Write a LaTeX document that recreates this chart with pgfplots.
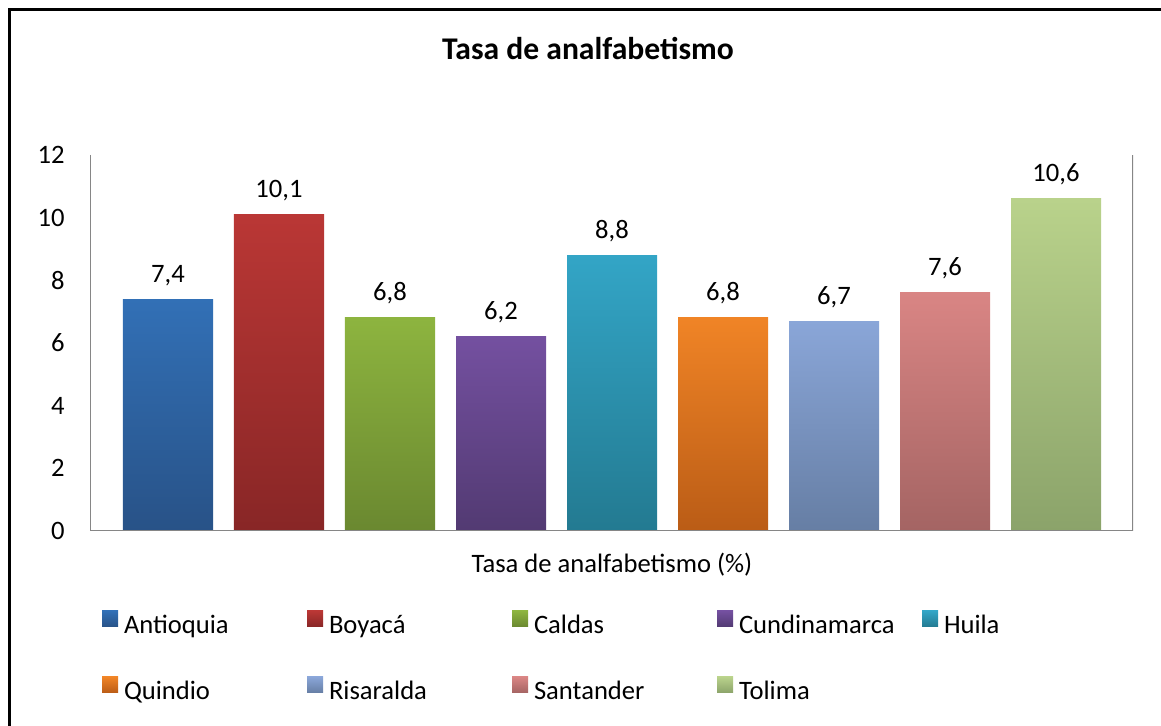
\documentclass[border=0pt]{standalone}
\usepackage{pgfplots}
\pgfplotsset{compat=1.18}
\usepackage{fontspec}
\setmainfont{Carlito}
\definecolor{c1t}{HTML}{3270B6}\definecolor{c1b}{HTML}{285287}
\definecolor{c2t}{HTML}{BA3735}\definecolor{c2b}{HTML}{882626}
\definecolor{c3t}{HTML}{8DB43F}\definecolor{c3b}{HTML}{6A8830}
\definecolor{c4t}{HTML}{7450A0}\definecolor{c4b}{HTML}{523A72}
\definecolor{c5t}{HTML}{33A5C6}\definecolor{c5b}{HTML}{237A91}
\definecolor{c6t}{HTML}{F08426}\definecolor{c6b}{HTML}{BA5C16}
\definecolor{c7t}{HTML}{8AA6D8}\definecolor{c7b}{HTML}{667EA4}
\definecolor{c8t}{HTML}{D98584}\definecolor{c8b}{HTML}{A46463}
\definecolor{c9t}{HTML}{B9D28B}\definecolor{c9b}{HTML}{8BA36A}
\definecolor{axgray}{HTML}{868686}
\begin{document}
\begin{tikzpicture}
\useasboundingbox (0,0) rectangle (580.5pt,363pt);
\draw[black, line width=1.5pt] (4.75pt,-2pt) -- (4.75pt,358.25pt) -- (585pt,358.25pt);
\node[anchor=base, font=\bfseries\fontsize{15.8}{18}\selectfont] at (294pt,333pt) {Tasa de analfabetismo};
\begin{axis}[
  at={(45pt,97.5pt)}, anchor=south west,
  scale only axis, width=521.5pt, height=188pt,
  ybar, bar width=45pt, bar shift=0pt,
  xmin=-0.7027, xmax=8.6937, ymin=0, ymax=12,
  ytick={0,2,...,12},
  xtick={4}, xticklabels={Tasa de analfabetismo (\%)},
  axis line style={draw=none},
  major tick length=0pt,
  tick style={draw=none},
  font=\fontsize{13.3}{16}\selectfont,
  /pgf/number format/assume math mode=true,
  yticklabel style={inner sep=0pt, xshift=-12.5pt},
  xticklabel style={anchor=base, yshift=-21pt, inner sep=0pt},
  nodes near coords={\pgfmathprintnumber[use comma,fixed,fixed zerofill,precision=1,assume math mode=true]{\pgfplotspointmeta}},
  every node near coord/.append style={anchor=base, yshift=8.5pt, inner sep=0pt, text=black, font=\fontsize{13.3}{16}\selectfont},
  mybar/.style={draw=none, legend image code/.code={\path[##1] (0pt,0.5pt) rectangle (8pt,8.5pt);}},
  legend columns=5,
  legend style={draw=none, fill=none, at={(0.0115,-0.2127)}, anchor=north west,
    column sep=0pt, row sep=18.5pt, inner sep=0pt, outer sep=0pt,
    nodes={inner ysep=0pt, inner xsep=3pt, text width=88.5pt, align=left, text height=9pt, text depth=3pt, font=\fontsize{13.3}{16}\selectfont}},
  legend cell align=left,
]
\addplot[mybar, top color=c1t, bottom color=c1b] coordinates {(0,7.4)};
\addplot[mybar, top color=c2t, bottom color=c2b] coordinates {(1,10.1)};
\addplot[mybar, top color=c3t, bottom color=c3b] coordinates {(2,6.8)};
\addplot[mybar, top color=c4t, bottom color=c4b] coordinates {(3,6.2)};
\addplot[mybar, top color=c5t, bottom color=c5b] coordinates {(4,8.8)};
\addplot[mybar, top color=c6t, bottom color=c6b] coordinates {(5,6.8)};
\addplot[mybar, top color=c7t, bottom color=c7b] coordinates {(6,6.7)};
\addplot[mybar, top color=c8t, bottom color=c8b] coordinates {(7,7.6)};
\addplot[mybar, top color=c9t, bottom color=c9b] coordinates {(8,10.6)};
\legend{Antioquia, Boyacá, Caldas, Cundinamarca, Huila, Quindio, Risaralda, Santander, Tolima}
\draw[axgray, line width=1pt] (rel axis cs:0,1) -- (rel axis cs:0,0) -- (rel axis cs:1,0) -- (rel axis cs:1,1);
\end{axis}
\end{tikzpicture}
\end{document}
